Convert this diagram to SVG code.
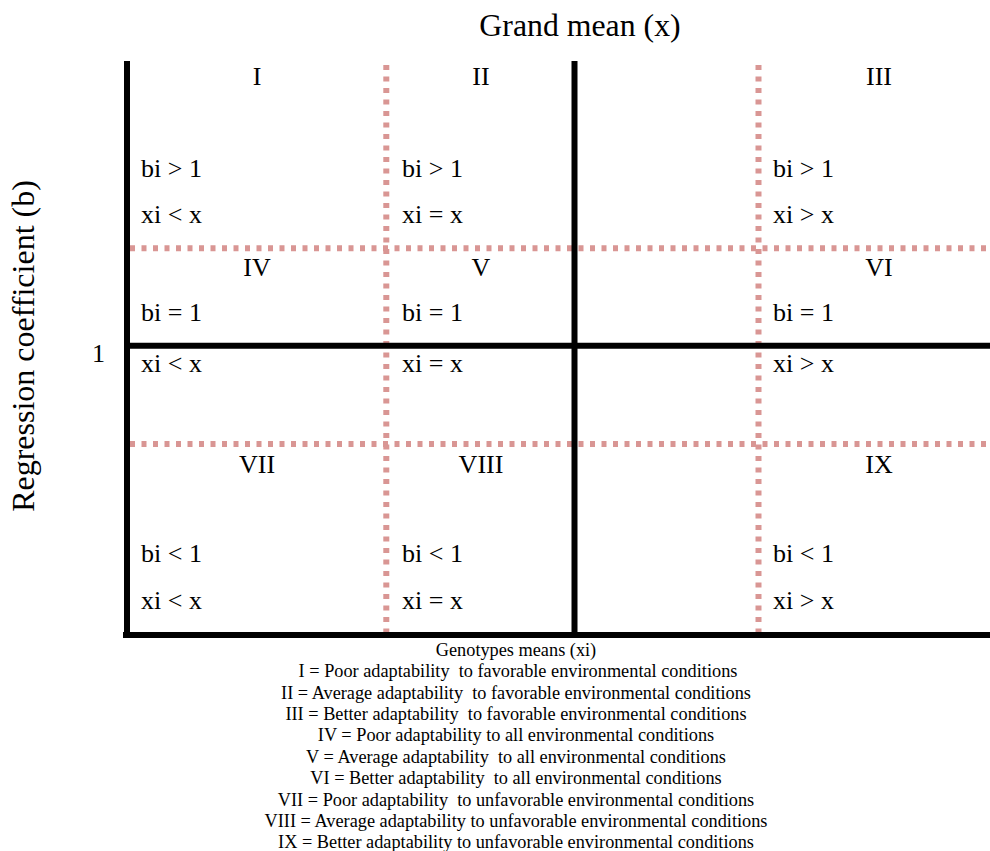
<svg xmlns="http://www.w3.org/2000/svg" width="990" height="851" viewBox="0 0 990 851">
<style>
.t{font-family:"Liberation Serif","Times New Roman",serif;fill:#000}
.c{font-size:26px}
.m{text-anchor:middle}
.lg{font-size:18.3px;text-anchor:middle;white-space:pre}
.axis{stroke:#000;stroke-width:6;fill:none}
.dash{stroke:#d99694;stroke-width:6;stroke-dasharray:5 6.5;fill:none}
</style>
<rect width="990" height="851" fill="#fff"/>
<g id="connectors">
<line class="dash" x1="130" y1="248.3" x2="990" y2="248.3"/>
<line class="dash" x1="130" y1="444" x2="990" y2="444"/>
<line class="dash" x1="386.3" y1="65" x2="386.3" y2="633"/>
<line class="dash" x1="758.5" y1="65" x2="758.5" y2="633"/>
<line class="axis" x1="127" y1="61" x2="127" y2="638"/>
<line class="axis" x1="123" y1="635" x2="990" y2="635"/>
<line class="axis" x1="574.5" y1="61" x2="574.5" y2="635"/>
<line class="axis" x1="127" y1="345.7" x2="990" y2="345.7"/>
</g>
<g id="axis-labels">
<text class="t m" x="580" y="36" font-size="31.8">Grand mean (x)</text>
<text class="t m" font-size="32" transform="translate(34,346) rotate(-90)">Regression coefficient (b)</text>
<text class="t" x="92" y="362" font-size="26">1</text>
</g>
<g id="cell-I"><text class="t c m" x="257" y="85">I</text><text class="t c" x="141" y="177">bi &gt; 1</text><text class="t c" x="141" y="223">xi &lt; x</text></g>
<g id="cell-II"><text class="t c m" x="481" y="85">II</text><text class="t c" x="402" y="177">bi &gt; 1</text><text class="t c" x="402" y="223">xi = x</text></g>
<g id="cell-III"><text class="t c m" x="879" y="85">III</text><text class="t c" x="773" y="177">bi &gt; 1</text><text class="t c" x="773" y="223">xi &gt; x</text></g>
<g id="cell-IV"><text class="t c m" x="257" y="276">IV</text><text class="t c" x="141" y="321">bi = 1</text><text class="t c" x="141" y="372">xi &lt; x</text></g>
<g id="cell-V"><text class="t c m" x="481" y="276">V</text><text class="t c" x="402" y="321">bi = 1</text><text class="t c" x="402" y="372">xi = x</text></g>
<g id="cell-VI"><text class="t c m" x="879" y="276">VI</text><text class="t c" x="773" y="321">bi = 1</text><text class="t c" x="773" y="372">xi &gt; x</text></g>
<g id="cell-VII"><text class="t c m" x="257" y="473">VII</text><text class="t c" x="141" y="562">bi &lt; 1</text><text class="t c" x="141" y="609">xi &lt; x</text></g>
<g id="cell-VIII"><text class="t c m" x="481" y="473">VIII</text><text class="t c" x="402" y="562">bi &lt; 1</text><text class="t c" x="402" y="609">xi = x</text></g>
<g id="cell-IX"><text class="t c m" x="879" y="473">IX</text><text class="t c" x="773" y="562">bi &lt; 1</text><text class="t c" x="773" y="609">xi &gt; x</text></g>
<g id="legend">
<text class="t lg" x="516" y="656" font-size="16">Genotypes means (xi)</text>
<text class="t lg" x="518" y="677">I = Poor adaptability  to favorable environmental conditions</text>
<text class="t lg" x="516" y="699">II = Average adaptability  to favorable environmental conditions</text>
<text class="t lg" x="516" y="720">III = Better adaptability  to favorable environmental conditions</text>
<text class="t lg" x="516" y="741">IV = Poor adaptability to all environmental conditions</text>
<text class="t lg" x="516" y="763">V = Average adaptability  to all environmental conditions</text>
<text class="t lg" x="516" y="784">VI = Better adaptability  to all environmental conditions</text>
<text class="t lg" x="516" y="806">VII = Poor adaptability  to unfavorable environmental conditions</text>
<text class="t lg" x="516" y="827">VIII = Average adaptability to unfavorable environmental conditions</text>
<text class="t lg" x="516" y="848">IX = Better adaptability to unfavorable environmental conditions</text>
</g>
</svg>
